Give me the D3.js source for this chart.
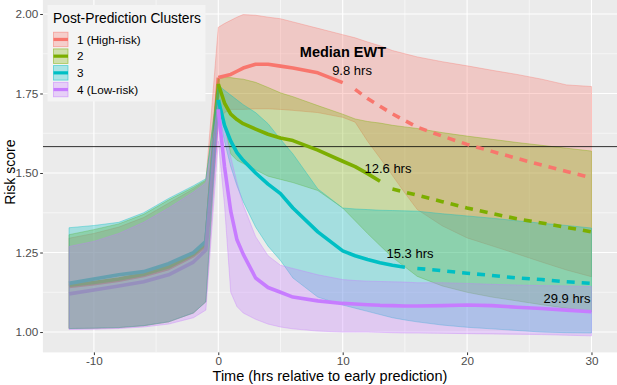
<!DOCTYPE html>
<html><head><meta charset="utf-8">
<script src="https://cdn.jsdelivr.net/npm/d3@7"></script>
<style>body{margin:0;background:#fff}svg{display:block;font-family:"Liberation Sans",Arial,sans-serif}</style>
</head><body><svg id="c" width="617" height="385"></svg>
<script>
// ---------- data ----------
const hours = [-12,-10,-8,-6,-4,-2,-1,0,0.5,1,1.5,2,3,4,5,6,8,10,11,12,13,14,15,16,18,20,22,24,26,28,30];

const c1Med = [1.143,1.152,1.163,1.178,1.200,1.240,1.272,1.800,1.805,1.810,1.820,1.830,1.842,1.842,1.836,1.830,1.815,1.784,1.763,1.734,1.710,1.686,1.665,1.644,1.616,1.590,1.568,1.546,1.525,1.505,1.485];
const c1Hi  = [1.295,1.310,1.330,1.360,1.405,1.450,1.475,1.958,1.970,1.980,1.990,1.998,1.996,1.990,1.985,1.975,1.955,1.935,1.925,1.912,1.900,1.885,1.875,1.865,1.850,1.837,1.823,1.810,1.795,1.777,1.772];
const c1Lo  = [1.011,1.012,1.014,1.020,1.032,1.060,1.095,1.660,1.690,1.700,1.700,1.700,1.702,1.702,1.700,1.697,1.690,1.675,1.660,1.600,1.547,1.492,1.437,1.385,1.334,1.296,1.271,1.246,1.220,1.195,1.174];

const c2Med = [1.147,1.156,1.167,1.182,1.205,1.245,1.278,1.780,1.720,1.685,1.668,1.655,1.638,1.622,1.610,1.602,1.572,1.537,1.520,1.498,1.474,1.450,1.440,1.430,1.410,1.390,1.373,1.356,1.343,1.329,1.315];
const c2Hi  = [1.306,1.322,1.340,1.370,1.415,1.455,1.478,1.797,1.800,1.800,1.797,1.795,1.785,1.769,1.752,1.740,1.712,1.685,1.670,1.662,1.657,1.650,1.645,1.640,1.627,1.616,1.606,1.596,1.587,1.578,1.569];
const c2Lo  = [1.011,1.012,1.014,1.020,1.032,1.060,1.095,1.760,1.650,1.560,1.540,1.530,1.510,1.490,1.480,1.470,1.445,1.390,1.350,1.310,1.272,1.235,1.205,1.175,1.145,1.125,1.110,1.098,1.086,1.075,1.064];

const c3Med = [1.153,1.167,1.180,1.190,1.215,1.250,1.285,1.730,1.650,1.600,1.564,1.540,1.500,1.465,1.435,1.390,1.315,1.255,1.240,1.228,1.218,1.210,1.204,1.200,1.193,1.185,1.178,1.170,1.165,1.158,1.153];
const c3Hi  = [1.328,1.335,1.345,1.375,1.420,1.460,1.482,1.776,1.760,1.745,1.730,1.715,1.690,1.655,1.606,1.560,1.450,1.390,1.387,1.385,1.383,1.382,1.381,1.380,1.372,1.365,1.358,1.350,1.342,1.335,1.327];
const c3Lo  = [1.011,1.012,1.014,1.020,1.032,1.060,1.095,1.700,1.600,1.520,1.460,1.410,1.330,1.270,1.225,1.170,1.110,1.085,1.075,1.065,1.055,1.045,1.038,1.032,1.022,1.015,1.010,1.005,1.000,0.998,0.997];

const c4Med = [1.120,1.132,1.145,1.158,1.180,1.220,1.258,1.700,1.520,1.380,1.290,1.245,1.170,1.140,1.125,1.110,1.098,1.090,1.088,1.086,1.084,1.083,1.082,1.082,1.083,1.085,1.083,1.078,1.074,1.069,1.064];
const c4Hi  = [1.269,1.285,1.310,1.345,1.390,1.440,1.469,1.722,1.640,1.550,1.470,1.400,1.300,1.240,1.210,1.200,1.180,1.165,1.162,1.160,1.159,1.158,1.157,1.155,1.155,1.153,1.150,1.148,1.146,1.145,1.143];
const c4Lo  = [1.008,1.009,1.011,1.016,1.025,1.045,1.069,1.600,1.400,1.125,1.080,1.060,1.040,1.025,1.016,1.010,1.003,1.000,1.000,1.000,0.999,0.998,0.997,0.997,0.996,0.995,0.994,0.993,0.992,0.990,0.988];

const clusterNames = ["1 (High-risk)","2","3","4 (Low-risk)"];
const clusterColors = ["#F8766D","#7CAE00","#00BFC4","#C77CFF"];
const ewt = [9.8,12.6,15.3,29.9];
const ewtLabels = ["9.8 hrs","12.6 hrs","15.3 hrs","29.9 hrs"];
const ewtLabelX = [10.75,13.64,15.41,28.03];
const ewtLabelY = [1.808,1.50,1.233,1.091];
const ewtTitle = "Median EWT";
const ewtTitleX = 10.02, ewtTitleY = 1.865;
const thresholdY = 1.583;
const xTicks = [-10,0,10,20,30];
const xMinor = [-5,5,15,25];
const yTicks = [1.00,1.25,1.50,1.75,2.00];
const yMinor = [1.125,1.375,1.625,1.875];
const xTitle = "Time (hrs relative to early prediction)";
const yTitle = "Risk score";
const legendTitle = "Post-Prediction Clusters";

const meds = [c1Med,c2Med,c3Med,c4Med];
const his = [c1Hi,c2Hi,c3Hi,c4Hi];
const los = [c1Lo,c2Lo,c3Lo,c4Lo];

// ---------- layout ----------
const svg = d3.select("#c");
const x = d3.scaleLinear().domain([-14.1,32.1]).range([42.9,617.6]);
const y = d3.scaleLinear().domain([0.936,2.049]).range([352.4,-1.6]);
const pL = 42.9, pR = 617, pT = 0, pB = 352.4;

svg.append("defs").append("clipPath").attr("id","clip")
  .append("rect").attr("x",pL).attr("y",pT).attr("width",pR-pL).attr("height",pB-pT);

svg.append("rect").attr("x",pL).attr("y",pT).attr("width",pR-pL).attr("height",pB-pT).attr("fill","#EBEBEB");

const grid = svg.append("g").attr("clip-path","url(#clip)");
xMinor.forEach(v=>grid.append("line").attr("x1",x(v)).attr("x2",x(v)).attr("y1",pT).attr("y2",pB).attr("stroke","#fff").attr("stroke-width",0.55));
yMinor.forEach(v=>grid.append("line").attr("y1",y(v)).attr("y2",y(v)).attr("x1",pL).attr("x2",pR).attr("stroke","#fff").attr("stroke-width",0.55));
xTicks.forEach(v=>grid.append("line").attr("x1",x(v)).attr("x2",x(v)).attr("y1",pT).attr("y2",pB).attr("stroke","#fff").attr("stroke-width",1.1));
yTicks.forEach(v=>grid.append("line").attr("y1",y(v)).attr("y2",y(v)).attr("x1",pL).attr("x2",pR).attr("stroke","#fff").attr("stroke-width",1.1));

const plot = svg.append("g").attr("clip-path","url(#clip)");

const area = d3.area().x(d=>x(d.h)).y0(d=>y(d.lo)).y1(d=>y(d.hi));
const line = d3.line().x(d=>x(d.h)).y(d=>y(d.m));
const series = clusterColors.map((c,i)=>hours.map((h,j)=>({h, m:meds[i][j], hi:his[i][j], lo:los[i][j]})));

// pre-prediction medians (under ribbons, muted)
series.forEach((s,i)=>{
  plot.append("path").attr("d",line(s.filter(d=>d.h<=0))).attr("fill","none").attr("stroke",clusterColors[i])
    .attr("stroke-width",3.6).attr("stroke-linejoin","round");
});

// ribbons
series.forEach((s,i)=>{
  plot.append("path").attr("d",area(s)+"Z")
    .attr("fill",clusterColors[i]).attr("fill-opacity",0.3)
    .attr("stroke",clusterColors[i]).attr("stroke-opacity",0.6).attr("stroke-width",0.6);
});

// threshold line
plot.append("line").attr("x1",pL).attr("x2",pR).attr("y1",y(thresholdY)).attr("y2",y(thresholdY))
  .attr("stroke","#000").attr("stroke-width",0.8);

// post-prediction medians: solid up to EWT, dashed afterwards
series.forEach((s,i)=>{
  const se = Math.round(ewt[i]);
  const solid = s.filter(d=>d.h>=0 && d.h<=se);
  const dashed = s.filter(d=>d.h>=se+1);
  plot.append("path").attr("d",line(solid)).attr("fill","none").attr("stroke",clusterColors[i])
    .attr("stroke-width",3.6).attr("stroke-linejoin","round");
  if(dashed.length>1){
    plot.append("path").attr("d",line(dashed)).attr("fill","none").attr("stroke",clusterColors[i])
      .attr("stroke-width",3.6).attr("stroke-dasharray","8,7");
  }
});

// annotations
svg.append("text").attr("x",x(ewtTitleX)).attr("y",y(ewtTitleY)).attr("text-anchor","middle")
  .attr("font-size",14.5).attr("font-weight","bold").attr("fill","#000").text(ewtTitle);
ewtLabels.forEach((t,i)=>{
  svg.append("text").attr("x",x(ewtLabelX[i])).attr("y",y(ewtLabelY[i])).attr("text-anchor","middle")
    .attr("font-size",13).attr("fill","#000").text(t);
});

// axes
const ax = svg.append("g").attr("transform",`translate(0,${pB})`)
  .call(d3.axisBottom(x).tickValues(xTicks).tickSize(2.7).tickPadding(2).tickFormat(d3.format("d")));
const ay = svg.append("g").attr("transform",`translate(${pL},0)`)
  .call(d3.axisLeft(y).tickValues(yTicks).tickSize(2.7).tickPadding(2).tickFormat(d3.format(".2f")));
[ax,ay].forEach(a=>{
  a.select(".domain").remove();
  a.selectAll(".tick line").attr("stroke","#333").attr("stroke-width",1);
  a.selectAll(".tick text").attr("fill","#4D4D4D").attr("font-size",11.7).attr("font-family","Liberation Sans, Arial, sans-serif");
});
ax.selectAll(".tick text").text(d=>d<0?"-"+Math.abs(d):d);

svg.append("text").attr("x",(pL+pR)/2).attr("y",381).attr("text-anchor","middle")
  .attr("font-size",14.5).attr("fill","#000").text(xTitle);
svg.append("text").attr("transform",`translate(15,${(pT+pB)/2-4}) rotate(-90)`).attr("text-anchor","middle")
  .attr("font-size",14).attr("fill","#000").text(yTitle);

// legend
const lg = svg.append("g");
lg.append("rect").attr("x",47.5).attr("y",5).attr("width",158).attr("height",96.5).attr("fill","#F4F4F4");
lg.append("text").attr("x",53).attr("y",22.5).attr("font-size",13.8).attr("fill","#000").text(legendTitle);
clusterNames.forEach((n,i)=>{
  const ky = 31.7 + i*16.7;
  lg.append("rect").attr("x",53.5).attr("y",ky+0.5).attr("width",14.5).attr("height",14.5)
    .attr("fill",clusterColors[i]).attr("fill-opacity",0.3).attr("stroke",clusterColors[i]).attr("stroke-opacity",0.6).attr("stroke-width",0.8);
  lg.append("line").attr("x1",53.5).attr("x2",68).attr("y1",ky+7.75).attr("y2",ky+7.75)
    .attr("stroke",clusterColors[i]).attr("stroke-width",3.2);
  lg.append("text").attr("x",77).attr("y",ky+12).attr("font-size",11.7).attr("fill","#000").text(n);
});
</script></body></html>
